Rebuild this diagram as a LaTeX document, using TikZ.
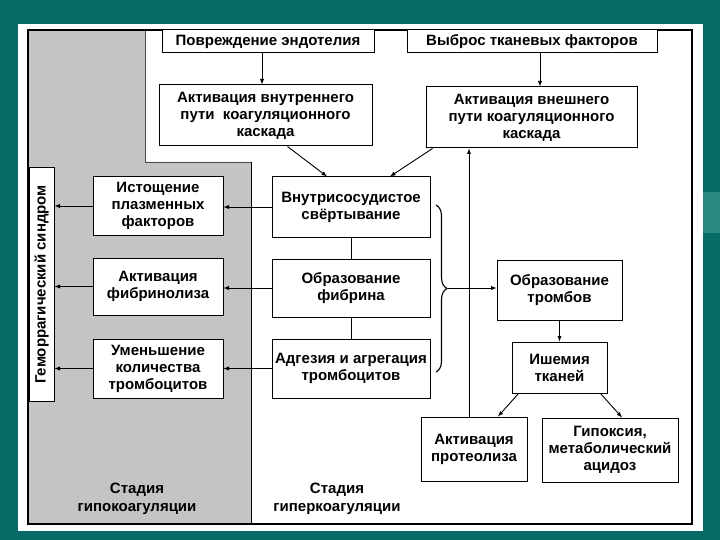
\documentclass[tikz,border=0pt]{standalone}
\usepackage{fontspec}
\setmainfont{Liberation Sans}
\usepackage{tikz}
\usetikzlibrary{decorations.pathreplacing}
\definecolor{slide}{RGB}{8,106,102}
\definecolor{slidelight}{RGB}{42,136,131}
\definecolor{hypogray}{RGB}{196,196,196}

\begin{document}
\begin{tikzpicture}[x=1pt,y=1pt]
\tikzstyle{every node}+=[inner sep=0pt]
\tikzstyle{box}=[draw=black, line width=1pt, fill=white, align=center, font=\bfseries\fontsize{15}{17}\selectfont]
\tikzstyle{arr}=[black, line width=0.9pt, -latex]
\useasboundingbox (0,0) rectangle (720,-540);
\fill [slide] (0,0) rectangle (720,-540);
\fill [slidelight] (703,-192) rectangle (720,-233);
\fill [white] (18,-24) rectangle (703,-531);
\fill [hypogray] (28,-30) -- (145,-30) -- (145,-162) -- (251,-162) -- (251,-524) -- (28,-524) -- cycle;
\draw [black!70, line width=0.6pt] (145,-30) -- (145,-162) -- (251,-162);
\draw [black, line width=1pt] (251,-162) -- (251,-524);
\draw [black, line width=1.2pt] (28,-30) rectangle (692,-524);
\node [box, minimum width=212pt, minimum height=23pt] (endo) at (268,-41.5) {Повреждение эндотелия};
\node [box, minimum width=250pt, minimum height=23pt] (tissue) at (532,-41.5) {Выброс тканевых факторов};
\node [box, minimum width=213pt, minimum height=61pt] (intr) at (265.5,-115.5) {Активация внутреннего\\пути\ \ коагуляционного\\каскада};
\node [box, minimum width=211pt, minimum height=61pt] (extr) at (531.5,-117.5) {Активация внешнего\\пути коагуляционного\\каскада};
\node [box, minimum width=158pt, minimum height=60pt] (dic) at (351,-207) {Внутрисосудистое\\свёртывание};
\node [box, minimum width=158pt, minimum height=58pt] (fibr) at (351,-288) {Образование\\фибрина};
\node [box, minimum width=158pt, minimum height=59pt] (adh) at (351,-368.5) {Адгезия и агрегация\\тромбоцитов};
\node [box, minimum width=130pt, minimum height=58pt] (depl) at (158,-206) {Истощение\\плазменных\\факторов};
\node [box, minimum width=130pt, minimum height=57pt] (fibrl) at (158,-286.5) {Активация\\фибринолиза};
\node [box, minimum width=130pt, minimum height=59pt] (plt) at (158,-368.5) {Уменьшение\\количества\\тромбоцитов};
\node [box, rotate=90, minimum width=233pt, minimum height=25pt] (hem) at (41.5,-284.5) {Геморрагический синдром};
\node [box, minimum width=125pt, minimum height=60pt] (thromb) at (559.5,-290) {Образование\\тромбов};
\node [box, minimum width=95pt, minimum height=51pt] (isch) at (559.5,-367.5) {Ишемия\\тканей};
\node [box, minimum width=106pt, minimum height=64pt] (prot) at (474,-449) {Активация\\протеолиза};
\node [box, minimum width=136pt, minimum height=64pt] (hyp) at (610,-450) {Гипоксия,\\метаболический\\ацидоз};
\node [align=center, font=\bfseries\fontsize{15}{18}\selectfont] (hypo) at (137,-499) {Стадия\\гипокоагуляции};
\node [align=center, font=\bfseries\fontsize{15}{18}\selectfont] (hyper) at (337,-499) {Стадия\\гиперкоагуляции};
\coordinate (bt) at (448,-288);
\draw [arr] ([xshift=-6pt]endo.south) -- ([xshift=-6pt]endo.south |- intr.north);
\draw [arr] ([xshift=8pt]tissue.south) -- ([xshift=8pt]tissue.south |- extr.north);
\draw [arr] ([xshift=22pt]intr.south) -- ([xshift=-24pt]dic.north);
\draw [arr] ([xshift=7pt]extr.south west) -- ([xshift=39pt]dic.north);
\draw [black, line width=0.9pt] (dic.south) -- (fibr.north);
\draw [black, line width=0.9pt] (fibr.south) -- (adh.north);
\draw [arr] (dic.west) -- (dic.west -| depl.east);
\draw [arr] (fibr.west) -- (fibr.west -| fibrl.east);
\draw [arr] (adh.west) -- (adh.west -| plt.east);
\draw [arr] (depl.west) -- (depl.west -| hem.south);
\draw [arr] (fibrl.west) -- (fibrl.west -| hem.south);
\draw [arr] (plt.west) -- (plt.west -| hem.south);
\draw [black, line width=1.1pt, decorate, decoration={brace, amplitude=11pt}] (436,-205) -- (436,-372);
\draw [arr] (bt) -- (bt -| thromb.west);
\draw [arr] ([xshift=-5pt]prot.north) -- ([xshift=-5pt]prot.north |- extr.south);
\draw [arr] (thromb.south) -- (isch.north);
\draw [arr] ([xshift=7pt]isch.south west) -- ([xshift=24pt]prot.north);
\draw [arr] ([xshift=-7pt]isch.south east) -- ([xshift=12pt]hyp.north);
\end{tikzpicture}
\end{document}
